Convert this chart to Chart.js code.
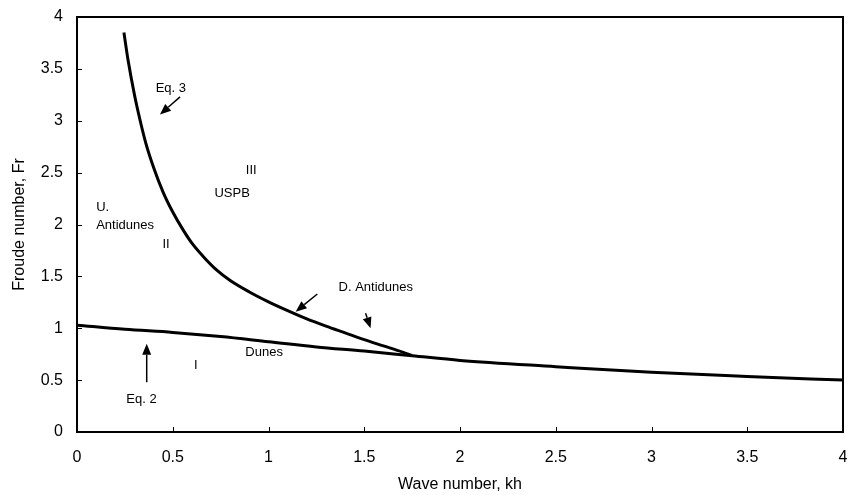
<!DOCTYPE html>
<html>
<head>
<meta charset="utf-8">
<script src="https://cdn.jsdelivr.net/npm/chart.js@4/dist/chart.umd.min.js"></script>
<style>
  html, body { margin: 0; padding: 0; background: #fff; }
  #wrap { width: 856px; height: 495px; }
</style>
</head>
<body>
<div id="wrap"><canvas id="grafica" width="856" height="495"></canvas></div>
<script>
// Eq. 2 (lower curve)
const kh2 = [0, 0.25, 0.5, 0.75, 1, 1.25, 1.5, 1.75, 2, 2.5, 3, 3.5, 4];
const fr2 = [1.03, 0.99, 0.96, 0.92, 0.87, 0.82, 0.78, 0.735, 0.69, 0.63, 0.575, 0.535, 0.5];

// Eq. 3 (upper curve)
const kh3 = [0.245, 0.267, 0.30, 0.33, 0.36, 0.40, 0.45, 0.50, 0.55, 0.60, 0.66, 0.73, 0.80, 0.90,
             1.00, 1.10, 1.20, 1.30, 1.40, 1.50, 1.60, 1.70, 1.75];
const fr3 = [3.85, 3.58, 3.25, 3.0, 2.78, 2.55, 2.31, 2.12, 1.96, 1.82, 1.69, 1.56, 1.46, 1.35,
             1.255, 1.17, 1.09, 1.02, 0.955, 0.89, 0.83, 0.77, 0.737];

// etiquetas de regiones [texto, kh, Fr, alineación]
const etiquetas = [
    ['Eq. 3', 0.49, 3.31, 'center'],
    ['III', 0.91, 2.52, 'center'],
    ['USPB', 0.81, 2.30, 'center'],
    ['U.', 0.10, 2.16, 'left'],
    ['Antidunes', 0.10, 1.99, 'left'],
    ['II', 0.465, 1.81, 'center'],
    ['D. Antidunes', 1.56, 1.39, 'center'],
    ['Dunes', 0.977, 0.764, 'center'],
    ['I', 0.62, 0.645, 'center'],
    ['Eq. 2', 0.337, 0.318, 'center'],
];

// flechas [kh cola, Fr cola, kh punta, Fr punta]
const flechas = [
    [0.538, 3.23, 0.433, 3.06],
    [1.255, 1.33, 1.142, 1.16],
    [1.507, 1.144, 1.533, 1.0],
    [0.364, 0.48, 0.364, 0.85],
];

const tickVals = [0, 0.5, 1, 1.5, 2, 2.5, 3, 3.5, 4];

const FONT = "'Liberation Sans', Arial, sans-serif";

const anotaciones = {
    id: 'anotaciones',
    afterDraw(chart) {
        const { ctx, chartArea: a, scales: { x, y } } = chart;
        ctx.save();
        // marco
        ctx.strokeStyle = '#000';
        ctx.lineWidth = 2;
        ctx.strokeRect(a.left, a.top, a.right - a.left, a.bottom - a.top);
        // marcas hacia dentro
        ctx.lineWidth = 1;
        ctx.beginPath();
        tickVals.forEach(v => {
            const px = Math.round(x.getPixelForValue(v)) + 0.5;
            ctx.moveTo(px, a.bottom);
            ctx.lineTo(px, a.bottom - 5);
            const py = Math.round(y.getPixelForValue(v)) + 0.5;
            ctx.moveTo(a.left, py);
            ctx.lineTo(a.left + 5, py);
        });
        ctx.stroke();

        // textos
        ctx.fillStyle = '#000';
        ctx.font = '13px ' + FONT;
        ctx.textBaseline = 'middle';
        etiquetas.forEach(([t, kx, fy, al]) => {
            ctx.textAlign = al;
            ctx.fillText(t, x.getPixelForValue(kx), y.getPixelForValue(fy));
        });

        // flechas
        flechas.forEach(([x0, y0, x1, y1]) => {
            const ax = x.getPixelForValue(x0), ay = y.getPixelForValue(y0);
            const bx = x.getPixelForValue(x1), by = y.getPixelForValue(y1);
            const ang = Math.atan2(by - ay, bx - ax);
            const len = 11, w = 4.5;
            const cx = bx - len * Math.cos(ang), cy = by - len * Math.sin(ang);
            ctx.lineWidth = 1.5;
            ctx.beginPath();
            ctx.moveTo(ax, ay);
            ctx.lineTo(cx, cy);
            ctx.stroke();
            ctx.beginPath();
            ctx.moveTo(bx, by);
            ctx.lineTo(cx + w * Math.sin(ang), cy - w * Math.cos(ang));
            ctx.lineTo(cx - w * Math.sin(ang), cy + w * Math.cos(ang));
            ctx.closePath();
            ctx.fill();
        });
        ctx.restore();
    }
};

new Chart(document.getElementById('grafica'), {
    type: 'scatter',
    data: {
        datasets: [
            {
                label: 'Eq. 2',
                data: kh2.map((v, i) => ({ x: v, y: fr2[i] })),
                showLine: true,
                borderColor: '#000',
                borderWidth: 3,
                pointRadius: 0,
                cubicInterpolationMode: 'monotone',
            },
            {
                label: 'Eq. 3',
                data: kh3.map((v, i) => ({ x: v, y: fr3[i] })),
                showLine: true,
                borderColor: '#000',
                borderWidth: 3,
                pointRadius: 0,
                cubicInterpolationMode: 'monotone',
            },
        ],
    },
    options: {
        responsive: false,
        animation: false,
        layout: { padding: { top: 17, right: 13, left: 0, bottom: 0 } },
        plugins: { legend: { display: false }, tooltip: { enabled: false } },
        scales: {
            x: {
                type: 'linear', min: 0, max: 4,
                afterFit(s) { s.height = 63; s.paddingLeft = 0; s.paddingRight = 0; },
                grid: { display: false, drawTicks: false },
                border: { display: false },
                ticks: { stepSize: 0.5, color: '#000', padding: 16, font: { family: FONT, size: 16 },
                         callback: v => String(v) },
                title: { display: true, text: 'Wave number, kh', color: '#000', padding: { top: 1, bottom: 1 }, font: { family: FONT, size: 16 } },
            },
            y: {
                type: 'linear', min: 0, max: 4,
                afterFit(s) { s.width = 77; s.paddingTop = 0; s.paddingBottom = 0; },
                grid: { display: false, drawTicks: false },
                border: { display: false },
                ticks: { stepSize: 0.5, color: '#000', padding: 14, font: { family: FONT, size: 16 },
                         callback: v => String(v) },
                title: { display: true, text: 'Froude number, Fr', color: '#000', padding: { top: 10, bottom: 0 }, font: { family: FONT, size: 16 } },
            },
        },
    },
    plugins: [anotaciones],
});
</script>
</body>
</html>
